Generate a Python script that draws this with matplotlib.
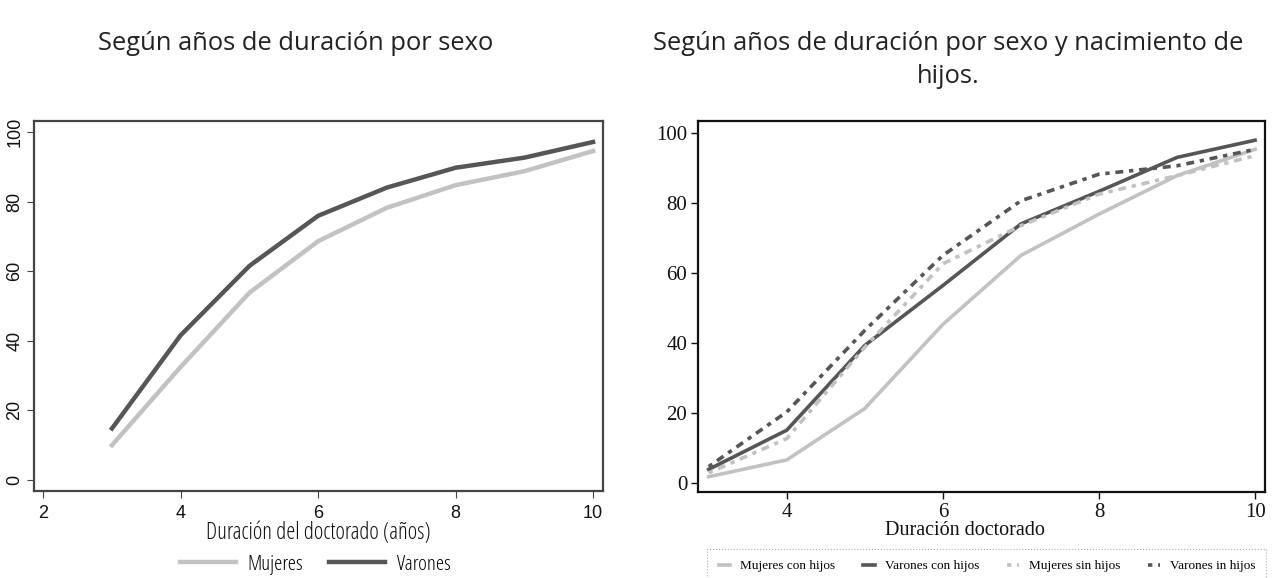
import numpy as np
import matplotlib.pyplot as plt

# años de duración
anios = [3, 4, 5, 6, 7, 8, 9, 10]

# panel izquierdo: por sexo
mujeres = [10.0, 32.5, 53.8, 68.6, 78.2, 84.7, 88.7, 94.5]
varones = [14.8, 41.6, 61.5, 75.9, 84.0, 89.7, 92.6, 97.1]

# panel derecho: por sexo y nacimiento de hijos
muj_con_hijos = [1.7, 6.5, 21.2, 45.2, 64.9, 76.7, 87.7, 95.2]
var_con_hijos = [3.8, 15.0, 39.2, 56.3, 73.9, 83.2, 92.9, 97.8]
muj_sin_hijos = [2.8, 12.6, 38.7, 62.5, 73.4, 82.4, 87.7, 93.4]
var_sin_hijos = [4.6, 20.2, 43.5, 64.9, 80.5, 88.1, 90.5, 95.2]

claro = "#c2c2c2"
oscuro = "#565656"

fig = plt.figure(figsize=(12.75, 5.78), dpi=100)

# ---- panel izquierdo
ax1 = fig.add_axes([0.0269, 0.1505, 0.4458, 0.640])
ax1.plot(anios, mujeres, color=claro, lw=3.2, label="Mujeres")
ax1.plot(anios, varones, color=oscuro, lw=3.2, label="Varones")
ax1.set_xlim(1.87, 10.14)
ax1.set_ylim(-3.16, 103.1)
ax1.set_xticks([2, 4, 6, 8, 10])
ax1.set_yticks([0, 20, 40, 60, 80, 100])
for s in ax1.spines.values():
    s.set_color("#444444")
    s.set_linewidth(1.6)
ax1.tick_params(direction="out", length=5, width=0.8, colors="#444444", labelcolor="#111111")
ax1.tick_params(axis="x", labelsize=13, pad=5)
ax1.tick_params(axis="y", labelsize=13, pad=3)
for t in ax1.get_yticklabels():
    t.set_rotation(90)
    t.set_va("center")
for t in ax1.get_xticklabels() + ax1.get_yticklabels():
    t.set_family("Liberation Sans")
ax1.set_xlabel("Duración del doctorado (años)", fontsize=16.5, family="Open Sans",
               fontstretch="condensed", labelpad=-1, color="#111111")
fig.legend(handles=ax1.get_lines(), loc="center", bbox_to_anchor=(0.247, 0.023),
           ncol=2, frameon=False, handlelength=2.7, handletextpad=0.55,
           columnspacing=1.25,
           prop={"family": "Open Sans", "stretch": "condensed", "size": 15})
fig.text(0.232, 0.925, "Según años de duración por sexo", ha="center", va="center",
         fontsize=18.4, family="Open Sans", color="#222222")

# ---- panel derecho
ax2 = fig.add_axes([0.5477, 0.1483, 0.4445, 0.6424])
ax2.plot(anios, muj_con_hijos, color=claro, lw=2.6, label="Mujeres con hijos")
ax2.plot(anios, var_con_hijos, color=oscuro, lw=2.6, label="Varones con hijos")
ax2.plot(anios, muj_sin_hijos, color=claro, lw=2.6, dashes=(1.2, 1.6, 2.2, 1.6),
         label="Mujeres sin hijos")
ax2.plot(anios, var_sin_hijos, color=oscuro, lw=2.6, dashes=(1.2, 1.6, 2.2, 1.6),
         label="Varones in hijos")
ax2.set_xlim(2.867, 10.128)
ax2.set_ylim(-2.74, 103.3)
ax2.set_xticks([4, 6, 8, 10])
ax2.set_yticks([0, 20, 40, 60, 80, 100])
for s in ax2.spines.values():
    s.set_color("#111111")
    s.set_linewidth(1.6)
ax2.tick_params(direction="out", length=5, width=1, colors="#111111", labelsize=15, pad=3)
for t in ax2.get_xticklabels() + ax2.get_yticklabels():
    t.set_family("Liberation Serif")
ax2.set_xlabel("Duración doctorado", fontsize=14.5, family="Liberation Serif",
               labelpad=0, color="#111111")
ax2.xaxis.set_label_coords(0.47, -0.078)
leg = fig.legend(handles=ax2.get_lines(), loc="upper center",
                 bbox_to_anchor=(0.774, 0.062), ncol=4, frameon=True, fancybox=False,
                 handlelength=0.9, handletextpad=0.75, columnspacing=2.1,
                 borderpad=0.85, prop={"family": "Liberation Serif", "size": 9.5})
leg.get_frame().set_linestyle(":")
leg.get_frame().set_edgecolor("#999999")
leg.get_frame().set_linewidth(0.8)
fig.text(0.744, 0.925, "Según años de duración por sexo y nacimiento de", ha="center",
         va="center", fontsize=18.4, family="Open Sans", color="#222222")
fig.text(0.744, 0.868, "hijos.", ha="center", va="center",
         fontsize=18.4, family="Open Sans", color="#222222")

fig.savefig("out.png", dpi=100)
